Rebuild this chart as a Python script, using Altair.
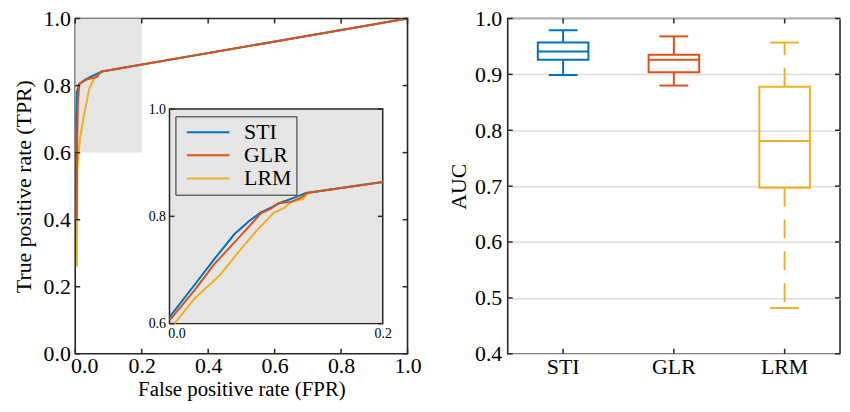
import altair as alt
import pandas as pd

FONT = "Liberation Serif"
INK = "#262626"
SHADE = "#e5e5e5"

SERIES = ["STI", "GLR", "LRM"]
COLORS = ["#0072BD", "#D95319", "#EDB120"]

# ROC curves (main panel)
sti_fpr = [0.003, 0.003, 0.005, 0.012, 0.030, 0.050, 0.065, 0.080, 1.000]
sti_tpr = [0.400, 0.700, 0.780, 0.805, 0.818, 0.828, 0.835, 0.842, 1.000]
glr_fpr = [0.004, 0.006, 0.008, 0.012, 0.036, 0.066, 0.071, 0.081, 1.000]
glr_tpr = [0.400, 0.650, 0.750, 0.805, 0.819, 0.826, 0.835, 0.842, 1.000]
lrm_fpr = [0.005, 0.006, 0.010, 0.015, 0.025, 0.034, 0.042, 0.056, 0.066, 0.076, 0.081]
lrm_tpr = [0.260, 0.550, 0.600, 0.646, 0.706, 0.750, 0.790, 0.819, 0.829, 0.839, 0.842]

# ROC curves (inset)
sti_in_fpr = [0.000, 0.0234, 0.0422, 0.061, 0.075, 0.0853, 0.0953, 0.103, 0.117, 0.128, 0.200]
sti_in_tpr = [0.612, 0.672, 0.7206, 0.767, 0.7917, 0.807, 0.8164, 0.8244, 0.835, 0.8436, 0.864]
glr_in_fpr = [0.000, 0.0234, 0.042, 0.064, 0.086, 0.0953, 0.102, 0.114, 0.1234, 0.129, 0.200]
glr_in_tpr = [0.606, 0.662, 0.711, 0.758, 0.806, 0.8145, 0.8244, 0.827, 0.835, 0.8436, 0.864]
lrm_in_fpr = [0.0047, 0.0234, 0.0469, 0.067, 0.083, 0.098, 0.108, 0.114, 0.125, 0.130]
lrm_in_tpr = [0.600, 0.6464, 0.6896, 0.739, 0.776, 0.807, 0.816, 0.827, 0.832, 0.844]

# zoom region [x0, x1, y0, y1]
zoom_box = [0.0, 0.2, 0.6, 1.0]

# AUC box statistics
box_cats = ["STI", "GLR", "LRM"]
box_min = [0.899, 0.880, 0.482]
box_q1 = [0.926, 0.904, 0.697]
box_med = [0.941, 0.926, 0.781]
box_q3 = [0.957, 0.935, 0.878]
box_max = [0.979, 0.968, 0.957]

# tick values
roc_ticks = [0.0, 0.2, 0.4, 0.6, 0.8, 1.0]
inset_x_ticks = [0.0, 0.2]
inset_y_ticks = [0.6, 0.8, 1.0]
auc_ticks = [0.4, 0.5, 0.6, 0.7, 0.8, 0.9, 1.0]

W, H = 335, 338
TL = 5


def curve_df(xs, ys, name):
    return pd.DataFrame({"x": xs, "y": ys, "series": name, "i": range(len(xs))})


main_df = pd.concat([
    curve_df(sti_fpr, sti_tpr, "STI"),
    curve_df(glr_fpr, glr_tpr, "GLR"),
    curve_df(lrm_fpr, lrm_tpr, "LRM"),
])
inset_df = pd.concat([
    curve_df(sti_in_fpr, sti_in_tpr, "STI"),
    curve_df(glr_in_fpr, glr_in_tpr, "GLR"),
    curve_df(lrm_in_fpr, lrm_in_tpr, "LRM"),
])
box_df = pd.DataFrame({"x": [zoom_box[0]], "x2": [zoom_box[1]],
                       "y": [zoom_box[2]], "y2": [zoom_box[3]]})
roc_tick_df = pd.DataFrame({"v": roc_ticks})
in_tick_df = pd.DataFrame({"y": inset_y_ticks})
auc_df = pd.DataFrame({"cat": box_cats, "lo": box_min, "q1": box_q1,
                       "med": box_med, "q3": box_q3, "hi": box_max})
auc_tick_df = pd.DataFrame({"v": auc_ticks})
cat_tick_df = pd.DataFrame({"cat": box_cats})

color_scale = alt.Scale(domain=SERIES, range=COLORS)
legend = alt.Legend(title=None, orient="none", legendX=101, legendY=98.6,
                    symbolType="stroke", symbolSize=1849, symbolStrokeWidth=2,
                    clipHeight=22, labelFontSize=22, labelFont=FONT, labelColor="#000000",
                    fillColor=SHADE, strokeColor=INK, padding=5, rowPadding=1.3,
                    symbolOffset=5.5, labelOffset=13.7)
col = alt.Color("series:N", scale=color_scale, legend=legend)

# ---------- main ROC panel ----------
xs = alt.Scale(domain=[0, 1], nice=False, zero=False)
ys = alt.Scale(domain=[0, 1], nice=False, zero=False)
ax_common = dict(domain=False, ticks=False, grid=False, labelFont=FONT, titleFont=FONT,
                 labelFontSize=22, labelColor="#000000", labelFlush=False,
                 titleColor="#000000", titleFontWeight="normal", format=".1f")
main_x_axis = alt.Axis(values=roc_ticks, title="False positive rate (FPR)", labelPadding=2,
                       titlePadding=2, titleFontSize=21,
                       labelOffset={"condition": {"test": "datum.value == 0", "value": 9}, "value": 0},
                       **ax_common)
main_y_axis = alt.Axis(values=roc_ticks, title="True positive rate (TPR)", labelPadding=5,
                       titlePadding=8, titleFontSize=22, **ax_common)


def MX(f):
    return alt.X(f, type="quantitative", scale=xs, axis=main_x_axis)


def MY(f):
    return alt.Y(f, type="quantitative", scale=ys, axis=main_y_axis)


shade = alt.Chart(box_df).mark_rect(color=SHADE).encode(x=MX("x"), x2="x2", y=MY("y"), y2="y2")


def main_line(name):
    return alt.Chart(main_df).transform_filter(alt.datum.series == name).mark_line(
        strokeWidth=2).encode(x=MX("x"), y=MY("y"), color=col, order="i:Q")


tk = dict(color=INK, strokeWidth=1.5)
top_t = alt.Chart(roc_tick_df).mark_rule(**tk).encode(x=MX("v"), y=alt.value(0), y2=alt.value(TL))
bot_t = alt.Chart(roc_tick_df).mark_rule(**tk).encode(x=MX("v"), y=alt.value(H), y2=alt.value(H - TL))
lef_t = alt.Chart(roc_tick_df).mark_rule(**tk).encode(y=MY("v"), x=alt.value(0), x2=alt.value(TL))
rig_t = alt.Chart(roc_tick_df).mark_rule(**tk).encode(y=MY("v"), x=alt.value(W), x2=alt.value(W - TL))

main = alt.layer(shade, main_line("LRM"), main_line("STI"), main_line("GLR"),
                 top_t, bot_t, lef_t, rig_t)

# ---------- inset ----------
ixs = alt.Scale(domain=[zoom_box[0], zoom_box[1]], range=[95, 310], nice=False, zero=False)
iys = alt.Scale(domain=[zoom_box[2], zoom_box[3]], range=[307.6, 91.3], nice=False, zero=False)
in_common = dict(domain=False, ticks=False, grid=False, labelFont=FONT, labelFontSize=14,
                 labelColor="#000000", title=None, format=".1f", labelFlush=False)
in_x_axis = alt.Axis(orient="bottom", offset=-30.4, values=inset_x_ticks, labelPadding=3,
                     labelOffset={"condition": {"test": "datum.value == 0", "value": 7}, "value": 0},
                     **in_common)
in_y_axis = alt.Axis(orient="left", offset=-95, values=inset_y_ticks, labelPadding=4, **in_common)


def IX(f):
    return alt.X(f, type="quantitative", scale=ixs, axis=in_x_axis)


def IY(f):
    return alt.Y(f, type="quantitative", scale=iys, axis=in_y_axis)


in_bg = alt.Chart(box_df).mark_rect(fill=SHADE, stroke=INK, strokeWidth=1.5).encode(
    x=IX("x"), x2="x2", y=IY("y"), y2="y2")


def in_line(name):
    return alt.Chart(inset_df).transform_filter(alt.datum.series == name).mark_line(
        strokeWidth=2).encode(x=IX("x"), y=IY("y"), color=col, order="i:Q")


in_lt = alt.Chart(in_tick_df).transform_calculate(x=str(inset_x_ticks[0])).mark_tick(
    orient="horizontal", size=TL, thickness=1.5, xOffset=TL / 2, color=INK, opacity=1).encode(
    x=IX("x"), y=IY("y"))
in_rt = alt.Chart(in_tick_df).transform_calculate(x=str(inset_x_ticks[1])).mark_tick(
    orient="horizontal", size=TL, thickness=1.5, xOffset=-TL / 2, color=INK, opacity=1).encode(
    x=IX("x"), y=IY("y"))

inset = alt.layer(in_bg, in_line("LRM"), in_line("STI"), in_line("GLR"), in_lt, in_rt)

left = alt.layer(main, inset).resolve_scale(x="independent", y="independent").properties(
    width=W, height=H)

# ---------- AUC box plot ----------
bx = alt.Scale(domain=box_cats, paddingInner=0, paddingOuter=0)
by = alt.Scale(domain=[0.4, 1.0], nice=False, zero=False)
bx_axis = alt.Axis(domain=False, ticks=False, grid=False, labelFont=FONT, labelFontSize=22,
                   labelColor="#000000", labelPadding=3, title=None, labelAngle=0)
by_axis = alt.Axis(values=auc_ticks, format=".1f", domain=False, ticks=False, grid=True,
                   gridColor="#dcdcdc", gridWidth=1.5, labelFont=FONT, labelFontSize=22,
                   labelColor="#000000", labelPadding=6, title="AUC", titleFont=FONT,
                   titleFontSize=22, titleFontWeight="normal", titleColor="#000000",
                   titlePadding=4.5, labelFlush=False)


def BX():
    return alt.X("cat:N", scale=bx, axis=bx_axis)


def BY(f):
    return alt.Y(f, type="quantitative", scale=by, axis=by_axis)


bcol = alt.Color("cat:N", scale=color_scale, legend=None)
dash = alt.condition(alt.datum.cat == "LRM", alt.value([19, 13]), alt.value([1, 0]))

boxes = alt.Chart(auc_df).mark_bar(filled=False, size=51, strokeWidth=2, opacity=1).encode(
    x=BX(), y=BY("q1"), y2="q3", color=bcol)
meds = alt.Chart(auc_df).mark_tick(size=51, thickness=2, opacity=1).encode(
    x=BX(), y=BY("med"), color=bcol)
wh_up = alt.Chart(auc_df).mark_rule(strokeWidth=2).encode(
    x=BX(), y=BY("q3"), y2="hi", color=bcol, strokeDash=dash)
wh_lo = alt.Chart(auc_df).mark_rule(strokeWidth=2).encode(
    x=BX(), y=BY("q1"), y2="lo", color=bcol, strokeDash=dash)
cap_up = alt.Chart(auc_df).mark_tick(size=29, thickness=2, opacity=1).encode(
    x=BX(), y=BY("hi"), color=bcol)
cap_lo = alt.Chart(auc_df).mark_tick(size=29, thickness=2, opacity=1).encode(
    x=BX(), y=BY("lo"), color=bcol)

b_top = alt.Chart(cat_tick_df).mark_rule(**tk).encode(x=BX(), y=alt.value(0), y2=alt.value(TL))
b_bot = alt.Chart(cat_tick_df).mark_rule(**tk).encode(x=BX(), y=alt.value(H), y2=alt.value(H - TL))
b_lef = alt.Chart(auc_tick_df).mark_rule(**tk).encode(y=BY("v"), x=alt.value(0), x2=alt.value(TL))
b_rig = alt.Chart(auc_tick_df).mark_rule(**tk).encode(y=BY("v"), x=alt.value(W), x2=alt.value(W - TL))

right = alt.layer(boxes, wh_up, wh_lo, meds, cap_up, cap_lo, b_top, b_bot, b_lef, b_rig).properties(
    width=W, height=H)

chart = alt.hconcat(left, right, spacing=24).resolve_scale(color="independent").resolve_legend(
    color="independent").properties(
    padding={"left": 2.8, "top": -3, "right": 0, "bottom": -1}, background="white"
).configure(font=FONT).configure_axis(labelFont=FONT, titleFont=FONT).configure_legend(
    labelFont=FONT).configure_view(stroke=INK, strokeWidth=1.6)

chart.save("out.html", embed_options={"renderer": "svg", "actions": False})
